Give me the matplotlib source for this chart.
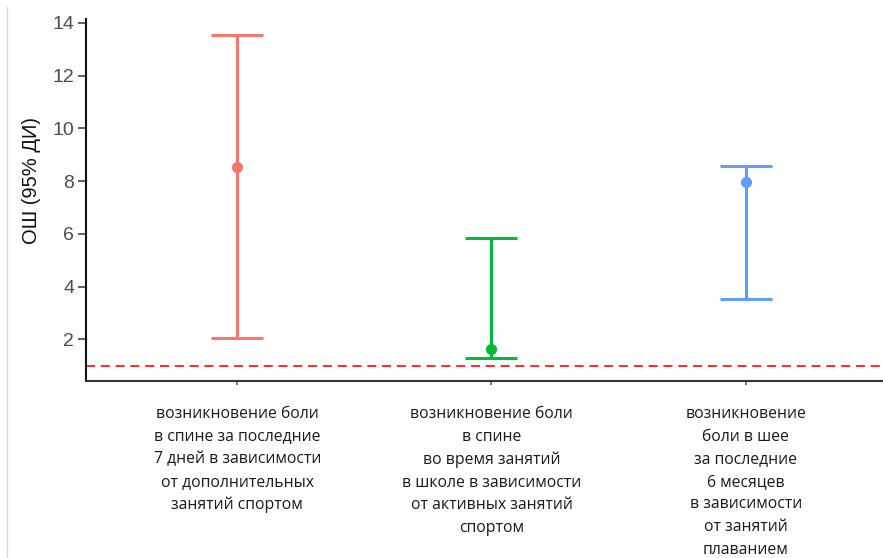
import matplotlib
matplotlib.use("Agg")
import matplotlib.pyplot as plt
from matplotlib.lines import Line2D

categories = [
    "возникновение боли\nв спине за последние\n7 дней в зависимости\nот дополнительных\nзанятий спортом",
    "возникновение боли\nв спине\nво время занятий\nв школе в зависимости\nот активных занятий\nспортом",
    "возникновение\nболи в шее\nза последние\n6 месяцев\nв зависимости\nот занятий\nплаванием",
]
or_values = [8.52, 1.64, 7.95]
ci_low = [2.05, 1.28, 3.54]
ci_high = [13.56, 5.86, 8.58]
colors = ["#F8766D", "#00BA38", "#619CFF"]
yticks = [2, 4, 6, 8, 10, 12, 14]
ref_line = 1.0

W, H = 883, 558
fig = plt.figure(figsize=(W / 100, H / 100), dpi=100)
ax = fig.add_axes([86 / W, 1 - 381 / H, (W - 86) / W, (381 - 19) / H])

xs = list(range(1, len(categories) + 1))
for x, v, lo, hi, c in zip(xs, or_values, ci_low, ci_high, colors):
    ax.errorbar([x], [v], yerr=[[v - lo], [hi - v]], fmt="o", color=c,
                ecolor=c, elinewidth=2.2, capsize=18.4, capthick=2.2,
                markersize=7, zorder=3)

ax.axhline(ref_line, color="#FF1A1A", lw=1.3, ls=(0, (5, 3.2)), zorder=2)

ax.set_xlim(0.405, 3.54)
ax.set_ylim(0.42, 14.15)
ax.set_xticks(xs)
ax.set_xticklabels(categories, family="Open Sans", fontsize=11.3,
                   color="#1a1a1a", linespacing=1.55)
ax.set_yticks(yticks)
ax.set_yticklabels([str(t) for t in yticks], family="Liberation Sans",
                   fontsize=14, color="#4D4D4D")
ax.tick_params(axis="y", length=5.5, width=1.1, color="#333333", pad=3)
ax.tick_params(axis="x", length=3, width=1.1, color="#555555", pad=15)

for s in ["top", "right"]:
    ax.spines[s].set_visible(False)
ax.spines["left"].set_linewidth(1.5)
ax.spines["bottom"].set_linewidth(1.5)
ax.spines["bottom"].set_color("#333333")
ax.spines["left"].set_color("#111111")

ax.set_ylabel("ОШ (95% ДИ)", family="Liberation Sans", fontsize=14.5,
              color="#111111")
ax.yaxis.set_label_coords(-0.057, 0.555)

fig.add_artist(Line2D([7.5 / W, 7.5 / W], [0, 1 - 7 / H], color="#d9d9d9",
                      lw=1.0, transform=fig.transFigure))

fig.savefig("out.png", dpi=100)
